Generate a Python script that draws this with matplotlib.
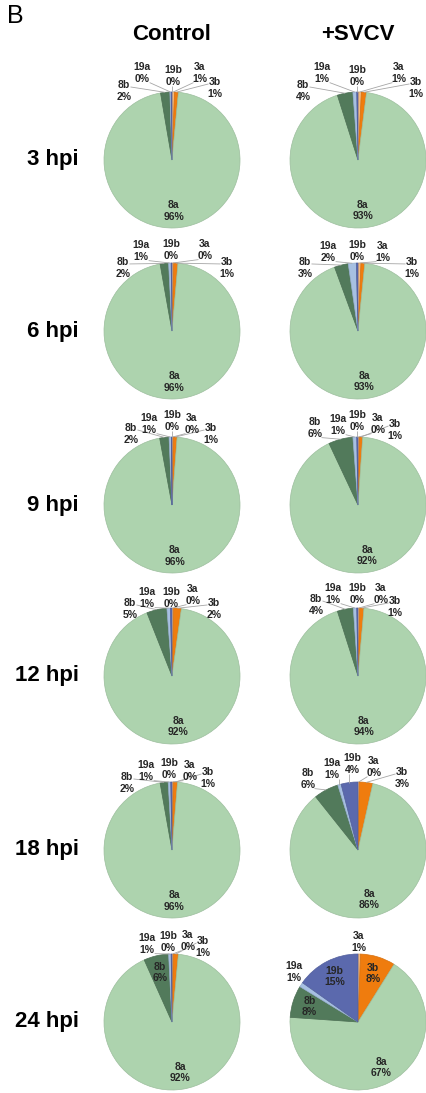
import matplotlib
matplotlib.use("Agg")
import matplotlib.pyplot as plt
import matplotlib.colors as mcolors
import numpy as np

# Segment shares (%) per time point, clockwise from 12 o'clock
segments = ["3a", "3b", "8a", "8b", "19a", "19b"]
times = ["3 hpi", "6 hpi", "9 hpi", "12 hpi", "18 hpi", "24 hpi"]
conditions = ["Control", "+SVCV"]

control_3hpi = [0.6, 0.9, 95.8, 2.2, 0.3, 0.2]
control_6hpi = [0.4, 1.0, 95.8, 2.0, 0.6, 0.2]
control_9hpi = [0.3, 0.9, 95.9, 2.2, 0.6, 0.1]
control_12hpi = [0.4, 1.8, 91.8, 4.8, 0.8, 0.4]
control_18hpi = [0.3, 1.0, 95.9, 1.9, 0.6, 0.3]
control_24hpi = [0.3, 1.2, 91.8, 5.9, 0.6, 0.2]

svcv_3hpi = [0.8, 1.2, 93.1, 3.7, 0.9, 0.3]
svcv_6hpi = [0.7, 0.9, 92.8, 3.3, 1.9, 0.4]
svcv_9hpi = [0.3, 0.8, 91.9, 5.8, 0.9, 0.3]
svcv_12hpi = [0.4, 1.0, 93.7, 3.8, 0.8, 0.3]
svcv_18hpi = [0.3, 3.2, 85.8, 5.9, 0.8, 4.0]
svcv_24hpi = [0.6, 8.3, 67.2, 7.6, 1.1, 15.2]

control = [control_3hpi, control_6hpi, control_9hpi,
           control_12hpi, control_18hpi, control_24hpi]
svcv = [svcv_3hpi, svcv_6hpi, svcv_9hpi, svcv_12hpi, svcv_18hpi, svcv_24hpi]

seg_colors = ["#f5b97c", "#ef7c0e", "#add3ae", "#527a5b", "#a7c0e2", "#5b69ad"]

# ---- layout (pixels, y measured downward from the top) ----
W, H = 427, 1093
R = 68
col_x = [172, 358]
row_y = [160, 331, 505, 676, 850, 1022]

# Labels placed outside their wedge: offset of label centre from pie centre
outside = {
    (0, 0): {"19a": (-30, -87), "19b": (1, -84), "3a": (28, -87), "3b": (43, -72), "8b": (-48, -69)},
    (0, 1): {"19a": (-31, -80), "19b": (-1, -81), "3a": (33, -81), "3b": (55, -63), "8b": (-49, -63)},
    (0, 2): {"8b": (-41, -71), "19a": (-23, -81), "19b": (0, -84), "3a": (20, -81), "3b": (39, -71)},
    (0, 3): {"8b": (-42, -67), "19a": (-25, -78), "19b": (-1, -78), "3a": (21, -81), "3b": (42, -67)},
    (0, 4): {"8b": (-45, -67), "19a": (-26, -79), "19b": (-3, -81), "3a": (18, -79), "3b": (36, -72)},
    (0, 5): {"19a": (-25, -78), "19b": (-4, -80), "3a": (16, -81), "3b": (31, -75)},
    (1, 0): {"19a": (-36, -87), "19b": (-1, -84), "3a": (41, -87), "3b": (58, -72), "8b": (-55, -69)},
    (1, 1): {"19a": (-30, -79), "19b": (-1, -80), "3a": (25, -79), "3b": (54, -63), "8b": (-53, -63)},
    (1, 2): {"8b": (-43, -77), "19a": (-20, -80), "19b": (-1, -84), "3a": (20, -81), "3b": (37, -75)},
    (1, 3): {"8b": (-42, -71), "19a": (-25, -82), "19b": (-1, -82), "3a": (23, -82), "3b": (37, -69)},
    (1, 4): {"8b": (-50, -71), "19a": (-26, -81), "19b": (-6, -86), "3a": (16, -83), "3b": (44, -72)},
    (1, 5): {"3a": (1, -80), "19a": (-64, -50)},
}

label_font = dict(family=["Liberation Sans", "DejaVu Sans"], size=7.5,
                  weight="bold", color="#262626")
head_font = dict(family=["Liberation Sans", "DejaVu Sans"], size=16,
                 weight="bold", color="black")


def darker(c, f=0.9):
    r, g, b = mcolors.to_rgb(c)
    return (r * f, g * f, b * f)


fig = plt.figure(figsize=(W / 100, H / 100), dpi=100)
ax = fig.add_axes([0, 0, 1, 1])

pending_lines = []
for ci, data_sets in enumerate([control, svcv]):
    for ti, vals in enumerate(data_sets):
        cx, cy = col_x[ci], H - row_y[ti]
        wedges, _ = ax.pie(vals, colors=seg_colors, startangle=90,
                           counterclock=False, center=(cx, cy), radius=R,
                           wedgeprops=dict(linewidth=0.5))
        for w, c in zip(wedges, seg_colors):
            w.set_edgecolor(darker(c))

        fracs = np.array(vals) / np.sum(vals)
        cum = np.cumsum(fracs)
        mids = cum - fracs / 2
        offs = outside[(ci, ti)]
        for seg, v, m in zip(segments, vals, mids):
            ang = np.deg2rad(90 - 360 * m)
            txt = f"{seg}\n{v:.0f}%"
            if seg in offs:
                dx, dy = offs[seg]
                t = ax.text(cx + dx, cy - dy, txt, ha="center", va="center",
                            linespacing=1.15, zorder=5, **label_font)
                edge = (cx + R * np.cos(ang), cy + R * np.sin(ang))
                pending_lines.append((t, edge))
            else:
                rr = 0.75 * R
                ax.text(cx + rr * np.cos(ang), cy + rr * np.sin(ang), txt,
                        ha="center", va="center", linespacing=1.15, zorder=5,
                        **label_font)

# Column headers, row headers and panel letter
for ci, name in enumerate(conditions):
    ax.text(col_x[ci], H - 34, name, ha="center", va="center", **head_font)
for ti, name in enumerate(times):
    ax.text(79, H - row_y[ti], name, ha="right", va="center", **head_font)
ax.text(7, H - 16, "B", ha="left", va="center",
        family=["Liberation Sans", "DejaVu Sans"], size=18, color="black")

ax.set_xlim(0, W)
ax.set_ylim(0, H)
ax.set_aspect("auto")
ax.axis("off")

# Leader lines from each outside label to its wedge
fig.canvas.draw()
renderer = fig.canvas.get_renderer()
inv = ax.transData.inverted()
for t, (ex, ey) in pending_lines:
    bb = t.get_window_extent(renderer)
    (x0, y0), (x1, y1) = inv.transform([(bb.x0, bb.y0), (bb.x1, bb.y1)])
    x0, x1 = x0 + 1, x1 - 1
    y0, y1 = y0 + 1, y1 - 2
    if y0 <= ey <= y1:
        # wedge edge level with the label: attach beside its first line
        sx = x0 if ex < x0 else x1
        sy = y1 - 0.25 * (y1 - y0)
    else:
        sx = min(max(ex, x0), x1)
        sy = min(max(ey, y0), y1)
    if np.hypot(sx - ex, sy - ey) > 5:
        ax.plot([sx, ex], [sy, ey], color="#a6a6a6", lw=0.6, zorder=4,
                solid_capstyle="butt")

fig.savefig("out.png", dpi=100)
